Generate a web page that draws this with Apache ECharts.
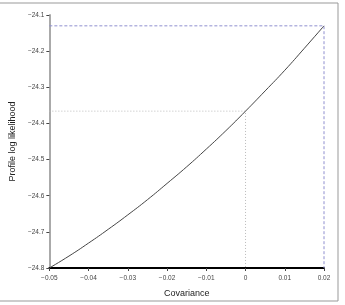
<!DOCTYPE html>
<html>
<head>
<meta charset="utf-8">
<script src="https://cdn.jsdelivr.net/npm/echarts@6/dist/echarts.min.js"></script>
<style>
  html, body { margin: 0; padding: 0; background: #fff; }
  #chart { width: 345px; height: 305px; }
</style>
</head>
<body>
<div id="chart"></div>
<script>
// covariance grid and the profile log likelihood
const covariance = [-0.05, -0.045, -0.04, -0.035, -0.03, -0.025, -0.02, -0.015, -0.01, -0.005, 0, 0.005, 0.01, 0.015, 0.02]
const logLik = [-24.800, -24.767, -24.731, -24.693, -24.653, -24.611, -24.566, -24.520, -24.471, -24.420, -24.366, -24.310, -24.253, -24.192, -24.130]

// guide lines: maximum (dashed) and value at zero covariance (dotted)
const maxGuide = [[-0.05, -24.13], [0.02, -24.13], [0.02, -24.8]]
const zeroGuide = [[-0.05, -24.366], [0, -24.366], [0, -24.8]]

const font = 'Liberation Sans, Arial, sans-serif'

function fmt(v) {
  const s = String(Math.round(v * 1000) / 1000)
  return s.replace('-', '\u2212')
}

const chart = echarts.init(document.getElementById('chart'), null, { renderer: 'canvas' })

chart.setOption({
  animation: false,
  grid: { left: 41, right: 21, top: 15, bottom: 37 },
  graphic: [{
    type: 'rect',
    shape: { x: -2, y: 3, width: 340, height: 298 },
    style: { fill: 'none', stroke: '#999', lineWidth: 1 },
    silent: true
  }],
  xAxis: {
    type: 'value',
    min: -0.05,
    max: 0.02,
    interval: 0.01,
    name: 'Covariance',
    nameLocation: 'middle',
    nameGap: 21,
    nameTextStyle: { fontFamily: font, fontSize: 9, color: '#222' },
    axisLine: { show: true, onZero: false, lineStyle: { color: '#000', width: 2 } },
    axisTick: { show: true, length: 3, lineStyle: { color: '#444' } },
    axisLabel: { fontFamily: font, fontSize: 6.5, color: '#444', margin: 7, formatter: v => fmt(v) },
    splitLine: { show: false }
  },
  yAxis: {
    type: 'value',
    min: -24.8,
    max: -24.1,
    interval: 0.1,
    name: 'Profile log likelihood',
    nameLocation: 'middle',
    nameGap: 29,
    nameTextStyle: { fontFamily: font, fontSize: 9, color: '#222' },
    axisLine: { show: true, onZero: false, lineStyle: { color: '#aaa', width: 2 } },
    axisTick: { show: true, length: 3, lineStyle: { color: '#444' } },
    axisLabel: { fontFamily: font, fontSize: 6.5, color: '#444', margin: 5, formatter: v => fmt(v) },
    splitLine: { show: false }
  },
  series: [
    {
      type: 'line',
      data: maxGuide,
      symbol: 'none',
      silent: true,
      lineStyle: { color: '#8f8fcf', width: 1, type: [3, 2] }
    },
    {
      type: 'line',
      data: zeroGuide,
      symbol: 'none',
      silent: true,
      lineStyle: { color: '#bbb', width: 1, type: [1, 2] }
    },
    {
      type: 'line',
      data: covariance.map((c, i) => [c, logLik[i]]),
      symbol: 'none',
      smooth: true,
      lineStyle: { color: '#444', width: 1 }
    }
  ]
})
</script>
</body>
</html>
